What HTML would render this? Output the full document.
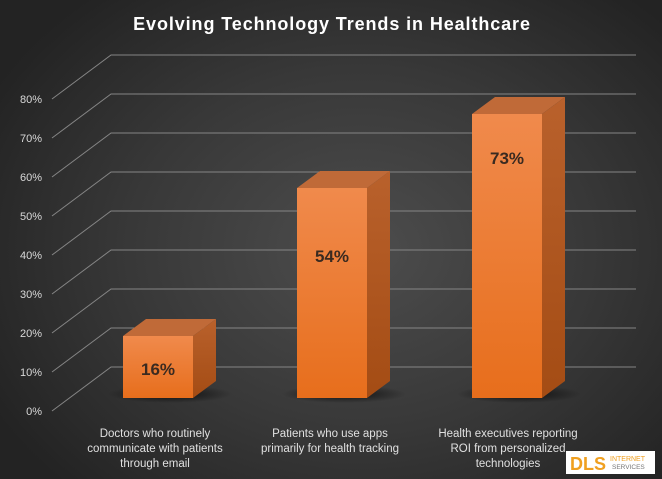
<!DOCTYPE html>
<html><head><style>
html,body{margin:0;padding:0}
body{width:662px;height:479px;overflow:hidden;background:radial-gradient(ellipse 420px 330px at 360px 250px,#4d4d4d 0%,#383838 55%,#232323 100%);font-family:"Liberation Sans",sans-serif}
</style></head><body>
<svg width="662" height="479" xmlns="http://www.w3.org/2000/svg" style="position:absolute;left:0;top:0">
<defs>
<linearGradient id="front" x1="0" y1="0" x2="0" y2="1"><stop offset="0" stop-color="#f08a4c"/><stop offset="1" stop-color="#e76e1c"/></linearGradient>
<linearGradient id="side" x1="0" y1="0" x2="0" y2="1"><stop offset="0" stop-color="#b9612c"/><stop offset="1" stop-color="#a44c14"/></linearGradient>
<radialGradient id="sh"><stop offset="0" stop-color="#000" stop-opacity="0.75"/><stop offset="1" stop-color="#000" stop-opacity="0"/></radialGradient>
</defs>
<text x="332" y="30" fill="#fff" font-size="18" font-weight="bold" text-anchor="middle" letter-spacing="0.9">Evolving Technology Trends in Healthcare</text>
<g stroke="#858585" stroke-width="1" fill="none">
<g id="gl">
<polyline points="52,411 111,367 636,367"/>
</g>
<use href="#gl" y="-39"/><use href="#gl" y="-78"/><use href="#gl" y="-117"/><use href="#gl" y="-156"/><use href="#gl" y="-195"/><use href="#gl" y="-234"/><use href="#gl" y="-273"/><use href="#gl" y="-312"/>
</g>
<g fill="#d8d8d8" font-size="11" text-anchor="end">
<text x="42" y="415">0%</text><text x="42" y="376">10%</text><text x="42" y="337">20%</text><text x="42" y="298">30%</text><text x="42" y="259">40%</text><text x="42" y="220">50%</text><text x="42" y="181">60%</text><text x="42" y="142">70%</text><text x="42" y="103">80%</text>
</g>
<ellipse cx="170" cy="394" rx="62" ry="9" fill="url(#sh)"/>
<ellipse cx="344" cy="394" rx="62" ry="9" fill="url(#sh)"/>
<ellipse cx="519" cy="394" rx="62" ry="9" fill="url(#sh)"/>
<polygon points="123,336 146,319 216,319 193,336" fill="#c06a38"/>
<polygon points="193,336 216,319 216,381 193,398" fill="url(#side)"/>
<rect x="123" y="336" width="70" height="62" fill="url(#front)"/>
<polygon points="297,188 320,171 390,171 367,188" fill="#c06a38"/>
<polygon points="367,188 390,171 390,381 367,398" fill="url(#side)"/>
<rect x="297" y="188" width="70" height="210" fill="url(#front)"/>
<polygon points="472,114 495,97 565,97 542,114" fill="#c06a38"/>
<polygon points="542,114 565,97 565,381 542,398" fill="url(#side)"/>
<rect x="472" y="114" width="70" height="284" fill="url(#front)"/>
<g fill="#3a2a20" font-size="17" font-weight="bold" text-anchor="middle">
<text x="158" y="375">16%</text><text x="332" y="262">54%</text><text x="507" y="164">73%</text>
</g>
<g fill="#e0e0e0" font-size="11.5" text-anchor="middle">
<text x="155" y="437">Doctors who routinely</text><text x="155" y="452">communicate with patients</text><text x="155" y="467">through email</text>
<text x="330" y="437">Patients who use apps</text><text x="330" y="452">primarily for health tracking</text>
<text x="508" y="437">Health executives reporting</text><text x="508" y="452">ROI from personalized</text><text x="508" y="467">technologies</text>
</g>
<rect x="566" y="451" width="89" height="23" fill="#fff"/>
<text x="570" y="470" fill="#f0a020" font-size="18" font-weight="bold">DLS</text>
<text x="610" y="461" fill="#f0a020" font-size="7">INTERNET</text>
<text x="612" y="469" fill="#777" font-size="6.5">SERVICES</text>
</svg>
</body></html>
